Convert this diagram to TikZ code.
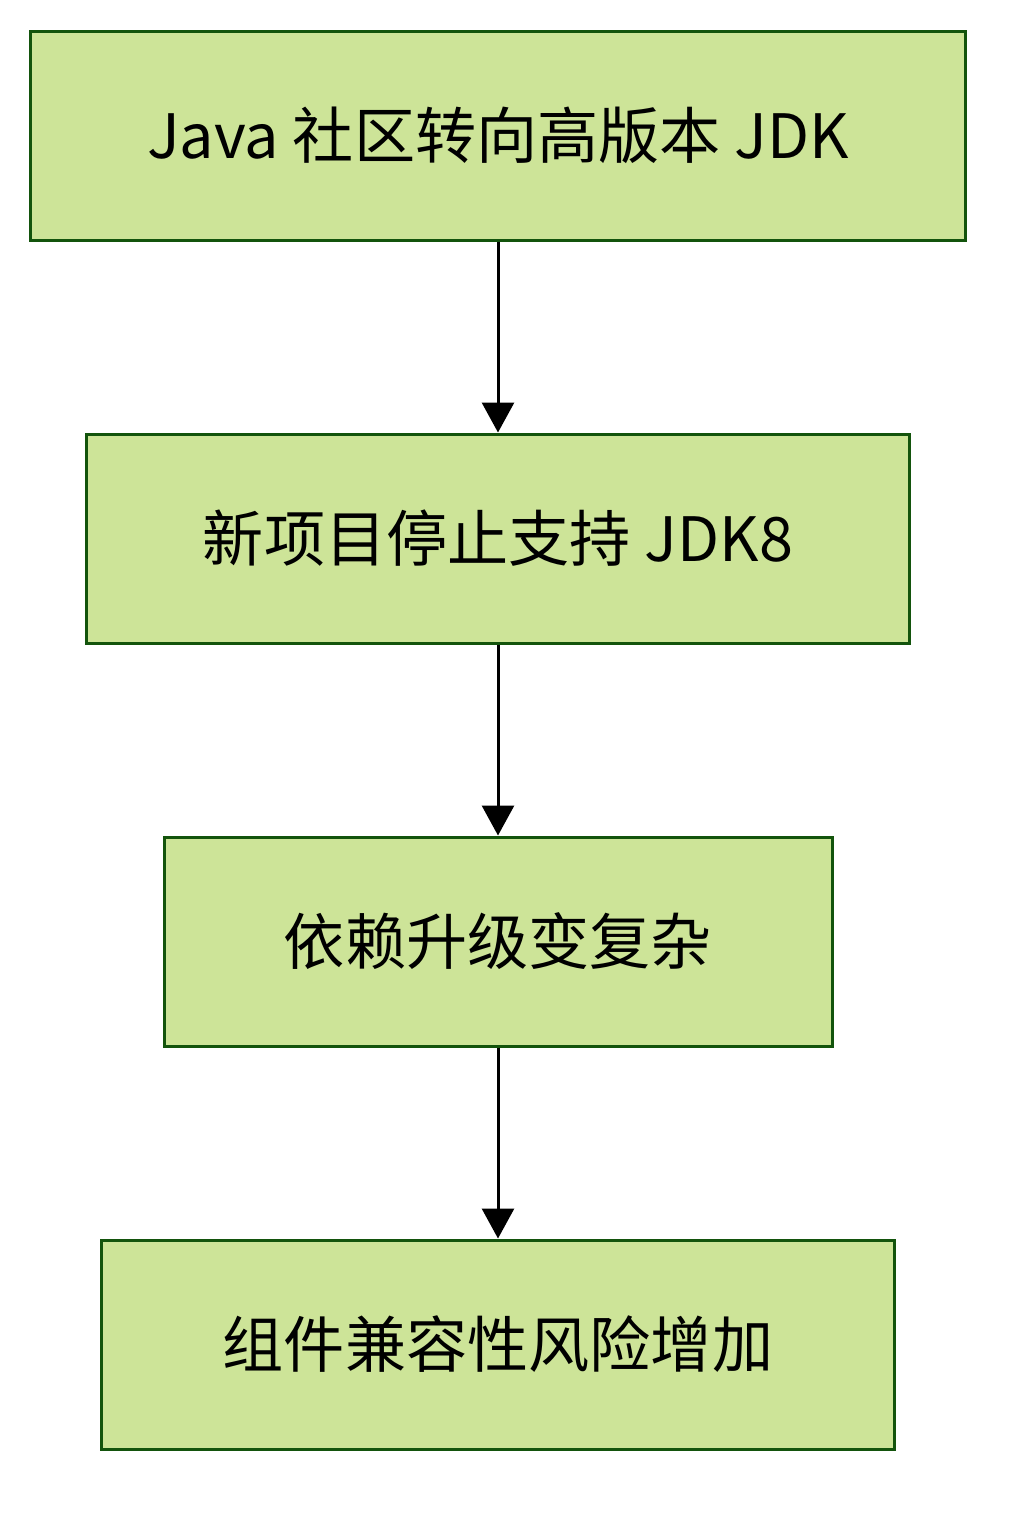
\documentclass[tikz,border=0pt]{standalone}
\usepackage{fontspec}
\setmainfont{Noto Sans CJK SC}
\usepackage{tikz}
\usetikzlibrary{arrows.meta,positioning}

\definecolor{boxfill}{HTML}{CDE498}
\definecolor{boxline}{HTML}{13540C}

\begin{document}
\begin{tikzpicture}[node distance=3.82cm]
	\tikzstyle{process} = [rectangle, minimum height=4.18cm, text centered,
	draw=boxline, line width=0.06cm, fill=boxfill,
	font=\fontsize{34.8pt}{40pt}\selectfont]
	\tikzstyle{arrow} = [line width=0.06cm, -{Triangle[length=0.6cm,width=0.64cm]}]
	\useasboundingbox (0,0) rectangle (20.56,-30.56);
	\node (javaCommunity) [process, minimum width=18.7cm] at (9.96,-2.71) {Java 社区转向高版本 JDK};
	\node (newProject) [process, minimum width=16.46cm, below=of javaCommunity] {新项目停止支持 JDK8};
	\node (dependency) [process, minimum width=13.36cm, below=of newProject] {依赖升级变复杂};
	\node (compatRisk) [process, minimum width=15.86cm, below=of dependency] {组件兼容性风险增加};
	\draw [arrow] (javaCommunity) -- (newProject);
	\draw [arrow] (newProject) -- (dependency);
	\draw [arrow] (dependency) -- (compatRisk);
\end{tikzpicture}
\end{document}
